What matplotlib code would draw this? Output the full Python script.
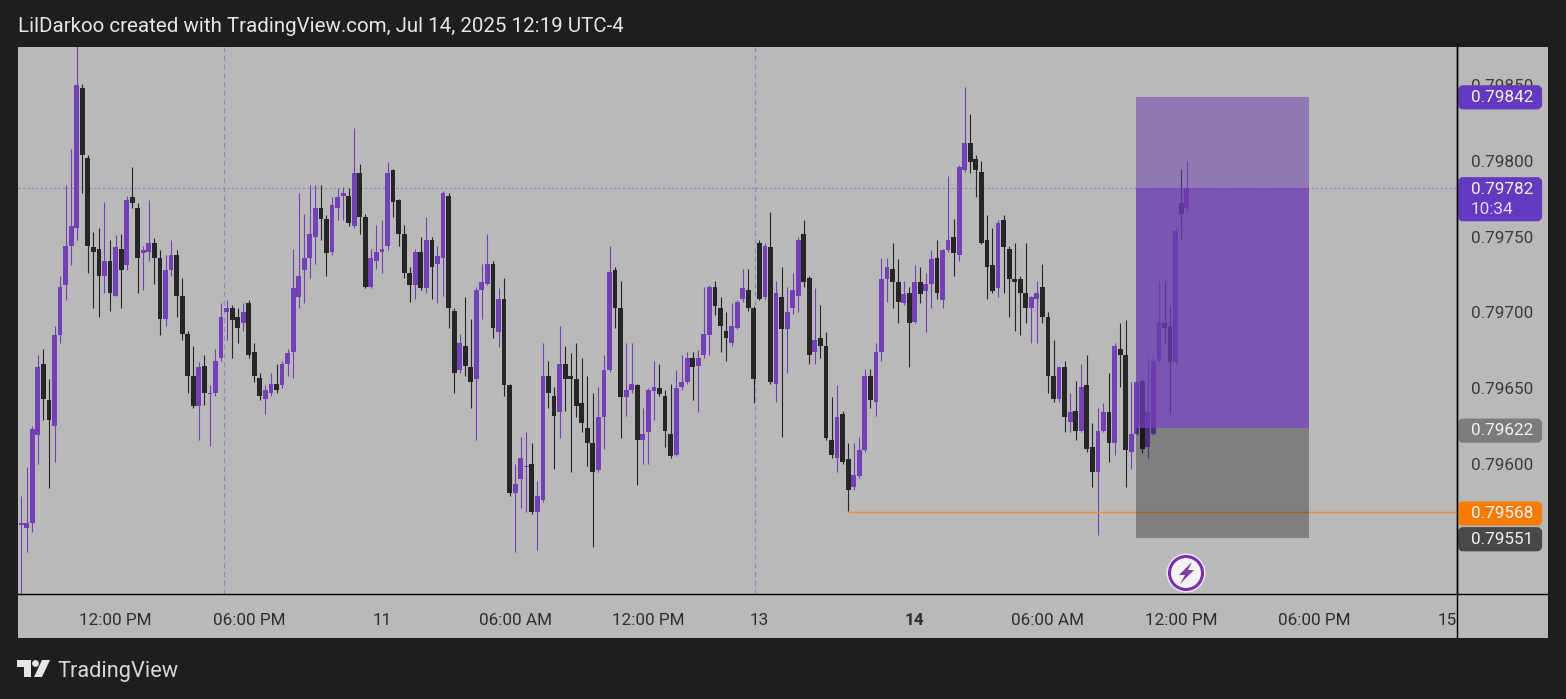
import matplotlib
matplotlib.use("Agg")
import matplotlib.pyplot as plt
from matplotlib.patches import Rectangle, FancyBboxPatch, Circle, Polygon
import numpy as np

plt.rcParams['font.family'] = ['Roboto', 'DejaVu Sans']

# 15 minute candles, prices in 1e-5
opens = [79532,79560,79558,79561,79619,79666,79642,79625,79685,79718,
         79744,79756,79848,79802,79743,79742,79724,79734,79711,79742,
         79731,79776,79769,79739,79740,79746,79736,79696,79728,79738,
         79711,79686,79658,79638,79665,79646,79647,79670,79700,79703,
         79697,79693,79706,79674,79657,79643,79647,79653,79652,79666,
         79674,79710,79728,79736,79750,79769,79762,79740,79769,79777,
         79777,79757,79792,79763,79717,79734,79740,79744,79794,79774,
         79752,79726,79718,79740,79716,79748,79732,79736,79777,79701,
         79662,79678,79664,79656,79715,79719,79732,79687,79709,79652,
         79581,79590,79598,79600,79568,79576,79658,79645,79634,79666,
         79658,79656,79640,79624,79614,79596,79631,79662,79728,79703,
         79644,79649,79652,79616,79621,79648,79650,79645,79620,79606,
         79651,79654,79670,79665,79672,79685,79717,79703,79688,79680,
         79690,79709,79715,79703,79746,79710,79743,79653,79710,79689,
         79703,79711,79752,79723,79674,79683,79678,79616,79604,79633,
         79603,79585,79592,79609,79658,79641,79674,79722,79729,79720,
         79706,79713,79694,79720,79714,79719,79736,79708,79741,79750,
         79738,79794,79812,79801,79793,79748,79731,79716,79761,79742,
         79722,79722,79713,79703,79709,79717,79697,79658,79643,79664,
         79628,79635,79622,79652,79611,79595,79622,79634,79614,79676,
         79672,79608,79620,79655,79611,79620,79668,79693,79691,79667,79772,79769]
highs = [79560,79579,79598,79625,79672,79676,79656,79691,79724,79784,
         79808,79876,79851,79804,79753,79756,79773,79748,79751,79752,
         79777,79796,79772,79744,79774,79749,79741,79738,79748,79741,
         79723,79688,79678,79667,79672,79652,79676,79706,79708,79705,
         79703,79706,79708,79680,79660,79652,79660,79666,79668,79676,
         79742,79779,79765,79784,79784,79784,79764,79776,79782,79783,
         79782,79822,79798,79765,79742,79758,79761,79799,79795,79775,
         79758,79730,79742,79750,79763,79750,79744,79780,79779,79703,
         79686,79710,79696,79717,79732,79752,79734,79716,79723,79653,
         79600,79618,79621,79614,79589,79680,79668,79651,79691,79678,
         79673,79680,79670,79658,79647,79651,79672,79744,79730,79721,
         79680,79680,79653,79637,79650,79668,79666,79649,79653,79662,
         79672,79674,79674,79675,79717,79718,79721,79710,79700,79706,
         79708,79729,79729,79704,79748,79746,79766,79721,79730,79717,
         79726,79750,79761,79724,79716,79705,79687,79644,79652,79635,
         79614,79614,79618,79663,79663,79680,79736,79736,79746,79735,
         79721,79717,79731,79730,79726,79741,79748,79742,79790,79762,
         79797,79849,79831,79804,79800,79764,79756,79761,79764,79744,
         79746,79724,79746,79711,79721,79732,79700,79682,79665,79668,
         79647,79655,79666,79672,79627,79637,79640,79660,79680,79693,
         79695,79654,79655,79656,79670,79670,79721,79721,79705,79756,79795,79800]
lows = [79515,79515,79542,79555,79600,79629,79584,79601,79680,79708,
        79731,79748,79779,79726,79703,79697,79713,79701,79711,79703,
        79728,79769,79713,79715,79734,79719,79685,79691,79724,79697,
        79682,79647,79637,79616,79639,79612,79645,79668,79682,79670,
        79680,79688,79670,79654,79642,79633,79645,79647,79650,79658,
        79657,79703,79706,79723,79732,79748,79724,79738,79761,79761,
        79757,79756,79752,79716,79716,79729,79726,79741,79763,79744,
        79723,79707,79709,79715,79713,79709,79706,79711,79690,79647,
        79660,79658,79637,79616,79696,79718,79683,79677,79645,79579,
        79542,79571,79568,79567,79543,79575,79637,79597,79617,79635,
        79595,79631,79621,79599,79545,79595,79610,79661,79690,79617,
        79632,79647,79586,79600,79600,79629,79645,79611,79604,79605,
        79649,79653,79642,79634,79670,79672,79698,79674,79668,79678,
        79689,79707,79701,79640,79708,79709,79653,79641,79618,79660,
        79699,79700,79717,79666,79666,79670,79616,79604,79595,79600,
        79569,79583,79591,79608,79637,79632,79668,79707,79703,79693,
        79705,79664,79693,79706,79687,79703,79709,79703,79740,79724,
        79734,79793,79792,79776,79745,79709,79713,79710,79713,79697,
        79688,79685,79693,79680,79680,79693,79647,79641,79641,79621,
        79621,79616,79621,79608,79585,79553,79621,79601,79606,79651,
        79585,79597,79619,79607,79604,79619,79667,79680,79633,79666,79748,79766]
closes = [79558,79561,79561,79623,79664,79643,79629,79685,79717,79744,
          79757,79850,79804,79744,79740,79724,79734,79713,79743,79728,
          79774,79772,79736,79741,79746,79736,79696,79728,79738,79711,
          79686,79658,79638,79664,79647,79647,79668,79697,79703,79695,
          79690,79700,79672,79658,79645,79649,79653,79649,79666,79673,
          79716,79724,79736,79752,79769,79762,79739,79771,79776,79779,
          79759,79792,79763,79717,79736,79740,79742,79792,79773,79752,
          79726,79718,79740,79716,79748,79730,79737,79779,79703,79660,
          79680,79665,79654,79715,79720,79732,79690,79709,79652,79581,
          79587,79604,79599,79568,79579,79658,79647,79632,79666,79656,
          79656,79638,79627,79614,79595,79631,79662,79727,79703,79644,
          79649,79653,79616,79620,79649,79651,79646,79622,79605,79650,
          79654,79670,79664,79670,79686,79717,79704,79691,79683,79691,
          79707,79716,79703,79656,79709,79744,79654,79713,79689,79700,
          79715,79748,79720,79672,79682,79678,79617,79606,79631,79601,
          79583,79593,79609,79658,79642,79674,79722,79730,79720,79707,
          79712,79693,79720,79712,79719,79735,79713,79741,79748,79739,
          79796,79812,79799,79794,79746,79730,79714,79759,79743,79722,
          79720,79713,79703,79710,79713,79697,79658,79643,79664,79631,
          79634,79622,79651,79610,79595,79622,79634,79614,79678,79672,
          79609,79620,79654,79610,79634,79668,79694,79690,79667,79754,79765,79782]

time_ticks = [18, 42, 66, 90, 114, 134, 162, 186, 210, 234, 258]
time_labels = ['12:00 PM', '06:00 PM', '11', '06:00 AM', '12:00 PM', '13', '14',
               '06:00 AM', '12:00 PM', '06:00 PM', '15']
price_ticks = [0.7960, 0.7965, 0.7970, 0.7975, 0.7980, 0.7985]
session_breaks = [37.5, 133.3]

last_price = 0.79782
target_price = 0.79842
entry_price = 0.79622
box_entry = 0.79624
stop_price = 0.79551
alert_price = 0.79568

BG = '#1e1e1e'
PANEL = '#b9b9b9'
UP = '#7440b6'
DOWN = '#262626'

o = np.array(opens) / 1e5
h = np.array(highs) / 1e5
l = np.array(lows) / 1e5
c = np.array(closes) / 1e5
idx = np.arange(len(o))
colors = [UP if a >= b else DOWN for a, b in zip(c, o)]

W, H = 1566, 699
fig = plt.figure(figsize=(W / 100, H / 100), dpi=100, facecolor=BG)


def rect(x0, y0, x1, y1):
    # pixel box -> figure fractions
    return [x0 / W, 1 - y1 / H, (x1 - x0) / W, (y1 - y0) / H]


bg = fig.add_axes(rect(18, 47, 1548, 638), zorder=0, facecolor=PANEL)
bg.set_xticks([])
bg.set_yticks([])
for s in bg.spines.values():
    s.set_visible(False)

ax = fig.add_axes(rect(18, 47, 1457, 594), zorder=1, facecolor=PANEL)
ax.set_xlim(0.42, 259.7)
ax.set_ylim(0.795142, 0.798752)

# candles
ax.vlines(idx, l, h, colors=colors, linewidth=0.8, zorder=3)
ax.bar(idx, np.abs(c - o), bottom=np.minimum(o, c), width=0.86, color=colors, linewidth=0, zorder=4)

# grid like lines
for b in session_breaks:
    ax.axvline(b, color='#8f8bbc', lw=0.9, dashes=(4, 3), zorder=2)
ax.axhline(last_price, color='#8f86b0', lw=0.8, dashes=(2, 2), zorder=2)
ax.hlines(alert_price, 150, 259.7, color='#f08a30', lw=1.0, zorder=5)

# long position box
ax.add_patch(Rectangle((201.9, box_entry), 31.1, target_price - box_entry,
                       facecolor='#6a3bb0', alpha=0.5, linewidth=0, zorder=6))
ax.add_patch(Rectangle((201.9, box_entry), 31.1, last_price - box_entry,
                       facecolor='#6a3bb0', alpha=0.58, linewidth=0, zorder=6))
ax.add_patch(Rectangle((201.9, stop_price), 31.1, box_entry - stop_price,
                       facecolor='#000000', alpha=0.31, linewidth=0, zorder=6))

ax.set_xticks(time_ticks)
ax.set_xticklabels(time_labels, fontsize=12.3, color='#2e2e2e')
ax.get_xticklabels()[6].set_fontweight('bold')
ax.tick_params(axis='x', length=0, pad=14)
ax.yaxis.tick_right()
ax.set_yticks(price_ticks)
ax.set_yticklabels(['%.5f' % p for p in price_ticks], fontsize=12.3, color='#3a3a3a')
ax.tick_params(axis='y', length=0, pad=10)
for name, s in ax.spines.items():
    s.set_visible(name in ('right', 'bottom'))
    s.set_color('#000000')
    s.set_linewidth(1.0)

# overlay in pixel coords: tags, header, logo
top = fig.add_axes([0, 0, 1, 1], zorder=5, facecolor='none')
top.set_xlim(0, W)
top.set_ylim(H, 0)
top.axis('off')
top.plot([1457, 1457], [44, 638], color='#000000', lw=1.0)
top.plot([1457, 1548], [594, 594], color='#000000', lw=1.0)


def price_y(p):
    return H - ax.transData.transform((0, p))[1]


def tag(price, color, label, height=24, shift=0):
    y = price_y(price) + shift
    top.add_patch(FancyBboxPatch((1460, y - height / 2 + 2), 80, height - 4,
                                 boxstyle='round,pad=0,rounding_size=3', mutation_aspect=1,
                                 facecolor=color, edgecolor=color, linewidth=3))
    if label:
        top.text(1502, y, label, color='#f2f2f2', fontsize=12.3, ha='center', va='center')


tag(target_price, '#6339c0', '%.5f' % target_price)
tag(last_price, '#6339c0', '', height=44, shift=11)
top.text(1471, price_y(last_price) + 1, '%.5f' % last_price, color='#f2f2f2', fontsize=12.3, ha='left', va='center')
top.text(1471, price_y(last_price) + 21, '10:34', color='#e4dcf4', fontsize=12.3, ha='left', va='center')
tag(entry_price, '#7c7c7c', '%.5f' % entry_price)
tag(alert_price, '#f57c00', '%.5f' % alert_price, shift=1)
tag(stop_price, '#484848', '%.5f' % stop_price, shift=1)

top.text(18, 26, 'LilDarkoo created with TradingView.com, Jul 14, 2025 12:19 UTC-4',
         color='#e6e6e6', fontsize=14.75, ha='left', va='center')
top.text(57, 671, 'TradingView', color='#d8d8d8', fontsize=15.7, ha='left', va='center')

# TV logo
top.add_patch(Polygon([(17, 660), (31, 660), (31, 677), (24, 677), (24, 667), (17, 667)], color='#e6e6e6', lw=0))
top.add_patch(Circle((35.5, 663.5), 3.4, color='#e6e6e6', lw=0))
top.add_patch(Polygon([(42, 660), (50, 660), (42, 677), (34, 677)], color='#e6e6e6', lw=0))

# alert icon
top.add_patch(Circle((1186, 573), 19.5, color='#f1e4f6', lw=0))
top.add_patch(Circle((1186, 573), 16.5, facecolor='#f4f2f5', edgecolor='#7b2fa8', lw=2.2))
top.add_patch(Polygon([(1192, 562), (1179, 575), (1185, 575), (1180, 584), (1194, 570), (1188, 570)],
                      color='#7b3fa0', lw=0))

fig.savefig('out.png', dpi=100, facecolor=BG)
